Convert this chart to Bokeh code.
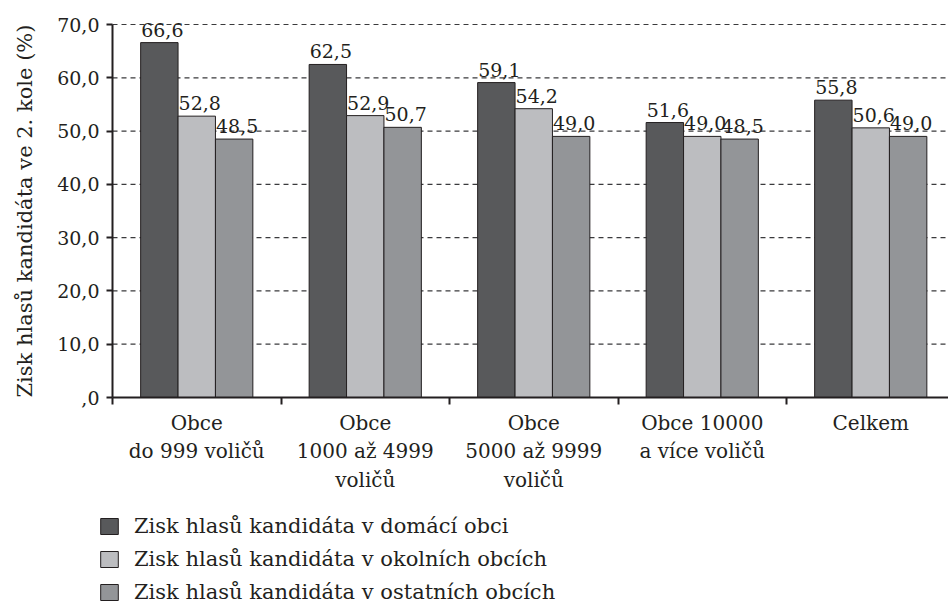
import numpy as np
from bokeh.plotting import figure
from bokeh.models import (ColumnDataSource, Range1d, FixedTicker, LinearAxis,
                          Legend, LegendItem)
from bokeh.core.properties import value
from bokeh.embed import file_html
from bokeh.resources import INLINE

# ---- data ----
categories = ["Obce\ndo 999 voličů", "Obce\n1000 až 4999\nvoličů",
              "Obce\n5000 až 9999\nvoličů", "Obce 10000\na více voličů", "Celkem"]
series_names = ["Zisk hlasů kandidáta v domácí obci",
                "Zisk hlasů kandidáta v okolních obcích",
                "Zisk hlasů kandidáta v ostatních obcích"]
domaci = [66.6, 62.5, 59.1, 51.6, 55.8]
okolni = [52.8, 52.9, 54.2, 49.0, 50.6]
ostatni = [48.5, 50.7, 49.0, 48.5, 49.0]
y_ticks = [0, 10, 20, 30, 40, 50, 60, 70]
y_tick_labels = [",0", "10,0", "20,0", "30,0", "40,0", "50,0", "60,0", "70,0"]

colors = ["#58595b", "#bcbdc0", "#939598"]
TXT = "#231f20"
FONT = "DejaVu Serif"

# ---- layout (pixels) ----
W, H = 948, 604
TOP = 24            # value 70
AX_X = 112          # y axis position
AX_Y = 397          # x axis position (value 0)
cat_px = 168.5
px_per_unit = (AX_Y - TOP) / 70.0

x_start = -AX_X / cat_px
x_end = (W - AX_X) / cat_px
y_start = 70 - (H - TOP) / px_per_unit
y_end = 70 + TOP / px_per_unit
bar_w = 37.4 / cat_px

p = figure(width=W, height=H, output_backend="svg", toolbar_location=None,
           x_range=Range1d(x_start, x_end), y_range=Range1d(y_start, y_end),
           x_axis_type=None, y_axis_type=None,
           min_border_left=0, min_border_right=0, min_border_top=0,
           min_border_bottom=0)
p.outline_line_color = None
p.background_fill_color = "white"
p.xgrid.visible = False
p.ygrid.visible = False

gsrc = ColumnDataSource(dict(y=y_ticks[1:], x0=[0] * 7, x1=[x_end] * 7))
p.segment(x0="x0", x1="x1", y0="y", y1="y", source=gsrc,
          line_color="#3a3a3c", line_dash="5 4", line_width=1.2)

centers = np.arange(len(categories)) + 0.5
offsets = [-bar_w, 0.0, bar_w]
renderers = []
for vals, off, col in zip([domaci, okolni, ostatni], offsets, colors):
    src = ColumnDataSource(dict(
        x=centers + off, top=vals,
        lab=[f"{v:.1f}".replace(".", ",") for v in vals]))
    r = p.vbar(x="x", top="top", width=bar_w, bottom=0, source=src,
               fill_color=col, line_color="#231f20", line_width=1)
    renderers.append(r)
    p.text(x="x", y="top", text="lab", source=src, text_align="center",
           text_baseline="bottom", x_offset=3, y_offset=-6,
           text_font=value(FONT), text_font_size="19px", text_color=TXT)

yaxis = LinearAxis(ticker=FixedTicker(ticks=y_ticks, minor_ticks=[]),
                   fixed_location=0, bounds=(0, 70))
yaxis.major_label_overrides = {t: l for t, l in zip(y_ticks, y_tick_labels)}
yaxis.axis_label = "Zisk hlasů kandidáta ve 2. kole (%)"
yaxis.axis_label_text_font = FONT
yaxis.axis_label_text_font_style = "normal"
yaxis.axis_label_text_font_size = "21px"
yaxis.axis_label_text_color = TXT
yaxis.axis_label_standoff = 17
yaxis.major_label_text_font = FONT
yaxis.major_label_text_font_size = "19px"
yaxis.major_label_text_color = TXT
yaxis.major_label_standoff = 7
yaxis.major_tick_out = 6
yaxis.major_tick_in = 0
yaxis.major_tick_line_width = 2
yaxis.major_tick_line_color = "#231f20"
yaxis.axis_line_width = 2
yaxis.axis_line_color = "#231f20"
p.add_layout(yaxis, "left")

xaxis = LinearAxis(ticker=FixedTicker(ticks=list(centers),
                                      minor_ticks=list(range(len(categories) + 1))),
                   fixed_location=0, bounds=(0, x_end))
xaxis.major_label_overrides = {float(c): lab for c, lab in zip(centers, categories)}
xaxis.major_label_text_font = FONT
xaxis.major_label_text_font_size = "20px"
xaxis.major_label_text_color = TXT
xaxis.major_label_standoff = 6
xaxis.major_tick_out = 0
xaxis.major_tick_in = 0
xaxis.minor_tick_out = 7
xaxis.minor_tick_in = 0
xaxis.minor_tick_line_width = 2
xaxis.minor_tick_line_color = "#231f20"
xaxis.axis_line_width = 2
xaxis.axis_line_color = "#231f20"
p.add_layout(xaxis, "below")

legend = Legend(items=[LegendItem(label=n, renderers=[r])
                       for n, r in zip(series_names, renderers)],
                location=(98, 0), orientation="vertical")
legend.label_text_font = FONT
legend.label_text_font_size = "21px"
legend.label_text_color = TXT
legend.glyph_width = 22
legend.glyph_height = 20
legend.label_standoff = 14
legend.spacing = 9
legend.padding = 0
legend.margin = 0
legend.border_line_color = None
legend.background_fill_alpha = 0
p.add_layout(legend, "center")

open("out.html", "w").write(file_html(p, INLINE))
